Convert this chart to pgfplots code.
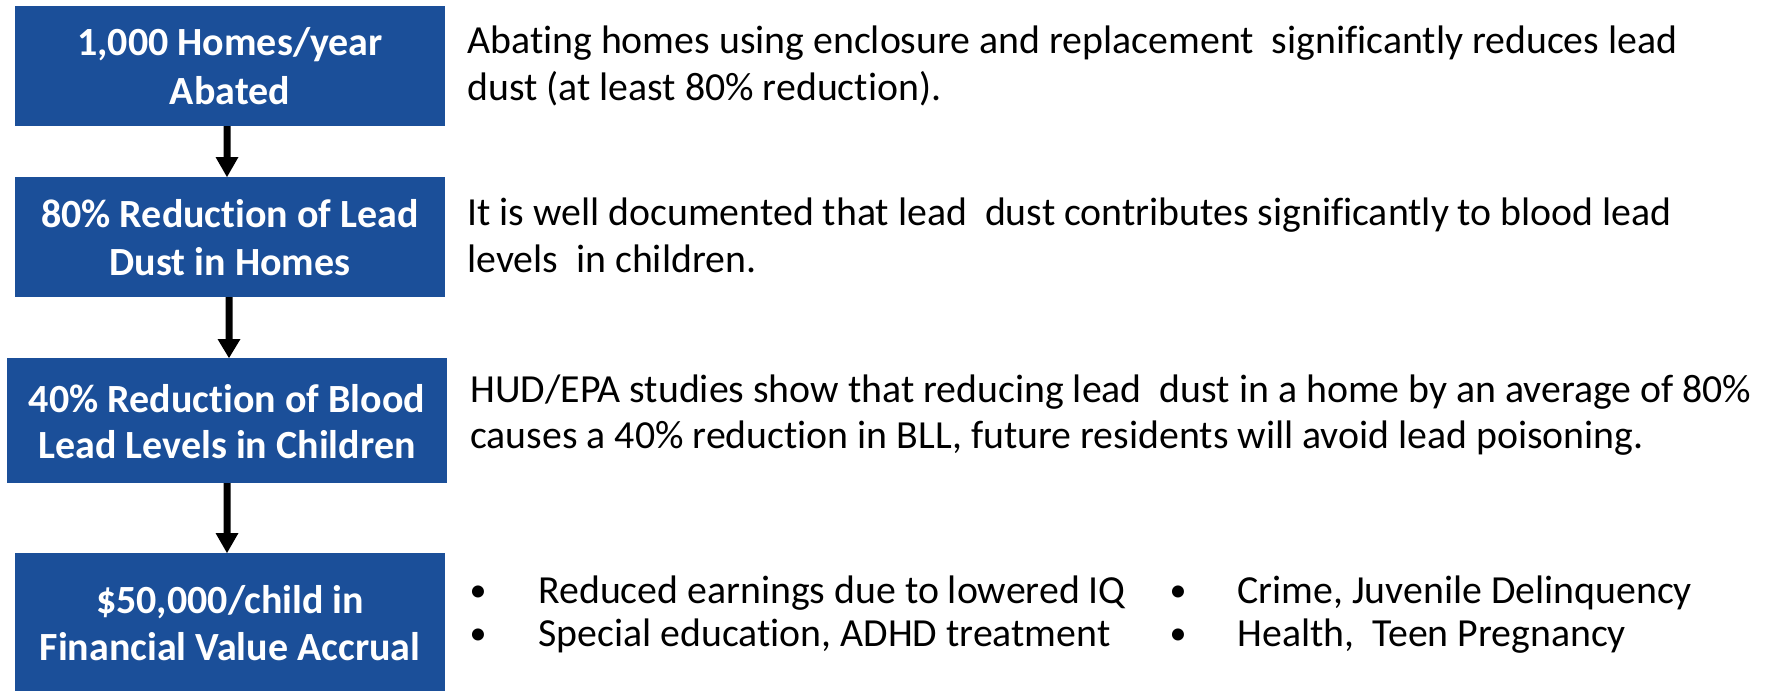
\documentclass[border=0pt]{standalone}
\usepackage{pgfplots}
\pgfplotsset{compat=1.18}
\usepackage{fontspec}
\setmainfont[Ligatures=NoCommon]{Carlito}
\definecolor{boxblue}{RGB}{27,79,153}
\begin{document}
\begin{tikzpicture}
\begin{axis}[scale only axis, width=883.5pt, height=345.5pt,
  xmin=0, xmax=1767, ymin=0, ymax=691, y dir=reverse,
  hide axis, clip=false]
% background (sets the picture size)
\addplot[fill=white, draw=none] coordinates {(0,0) (1767,0) (1767,691) (0,691)} -- cycle;
% boxes
\addplot[fill=boxblue, draw=none] coordinates {(15,6) (445,6) (445,126) (15,126)} -- cycle;
\addplot[fill=boxblue, draw=none] coordinates {(15,177) (445,177) (445,297) (15,297)} -- cycle;
\addplot[fill=boxblue, draw=none] coordinates {(7,358) (447,358) (447,483) (7,483)} -- cycle;
\addplot[fill=boxblue, draw=none] coordinates {(15,553) (445,553) (445,691) (15,691)} -- cycle;
% arrows
\addplot[fill=black, draw=none] coordinates {(223.5,126) (230.5,126) (230.5,157) (238.5,157) (227,177) (215.5,157) (223.5,157)} -- cycle;
\addplot[fill=black, draw=none] coordinates {(225.5,297) (232.5,297) (232.5,339) (240.5,339) (229,358) (217.5,339) (225.5,339)} -- cycle;
\addplot[fill=black, draw=none] coordinates {(223.5,483) (230.5,483) (230.5,533) (238.5,533) (227,553) (215.5,533) (223.5,533)} -- cycle;
% box texts
\begin{scope}[every node/.style={text=white, font=\fontsize{20}{24}\selectfont\bfseries, anchor=base}]
\node at (axis cs:230,55) {1,000 Homes/year};
\node at (axis cs:230,104) {Abated};
\node at (axis cs:230,227) {80\% Reduction of Lead};
\node at (axis cs:230,275) {Dust in Homes};
\node at (axis cs:227,412) {40\% Reduction of Blood};
\node at (axis cs:227,458) {Lead Levels in Children};
\node at (axis cs:230,613) {\$50,000/child in};
\node at (axis cs:230,660) {Financial Value Accrual};
\end{scope}
% right texts
\begin{scope}[every node/.style={text=black, font=\fontsize{19.9}{24}\selectfont, anchor=base west, inner sep=0pt}]
\node at (axis cs:467,53) {Abating homes using enclosure and replacement\ \ significantly reduces lead};
\node at (axis cs:467,100) {dust (at least 80\% reduction).};
\node at (axis cs:467,225) {It is well documented that lead\ \ dust contributes significantly to blood lead};
\node at (axis cs:467,272) {levels\ \ in children.};
\node at (axis cs:470,402) {HUD/EPA studies show that reducing lead\ \ dust in a home by an average of 80\%};
\node at (axis cs:470,448) {causes a 40\% reduction in BLL, future residents will avoid lead poisoning.};
\node at (axis cs:538,603) {Reduced earnings due to lowered IQ};
\node at (axis cs:538,646) {Special education, ADHD treatment};
\node at (axis cs:1237,603) {Crime, Juvenile Delinquency};
\node at (axis cs:1237,646) {Health,\ \ Teen Pregnancy};
\end{scope}
\begin{scope}[every node/.style={text=black, font=\fontsize{17}{20}\selectfont, anchor=base, inner sep=0pt}]
\node at (axis cs:478,601) {•};
\node at (axis cs:478,644) {•};
\node at (axis cs:1178,601) {•};
\node at (axis cs:1178,644) {•};
\end{scope}
\end{axis}
\end{tikzpicture}
\end{document}
